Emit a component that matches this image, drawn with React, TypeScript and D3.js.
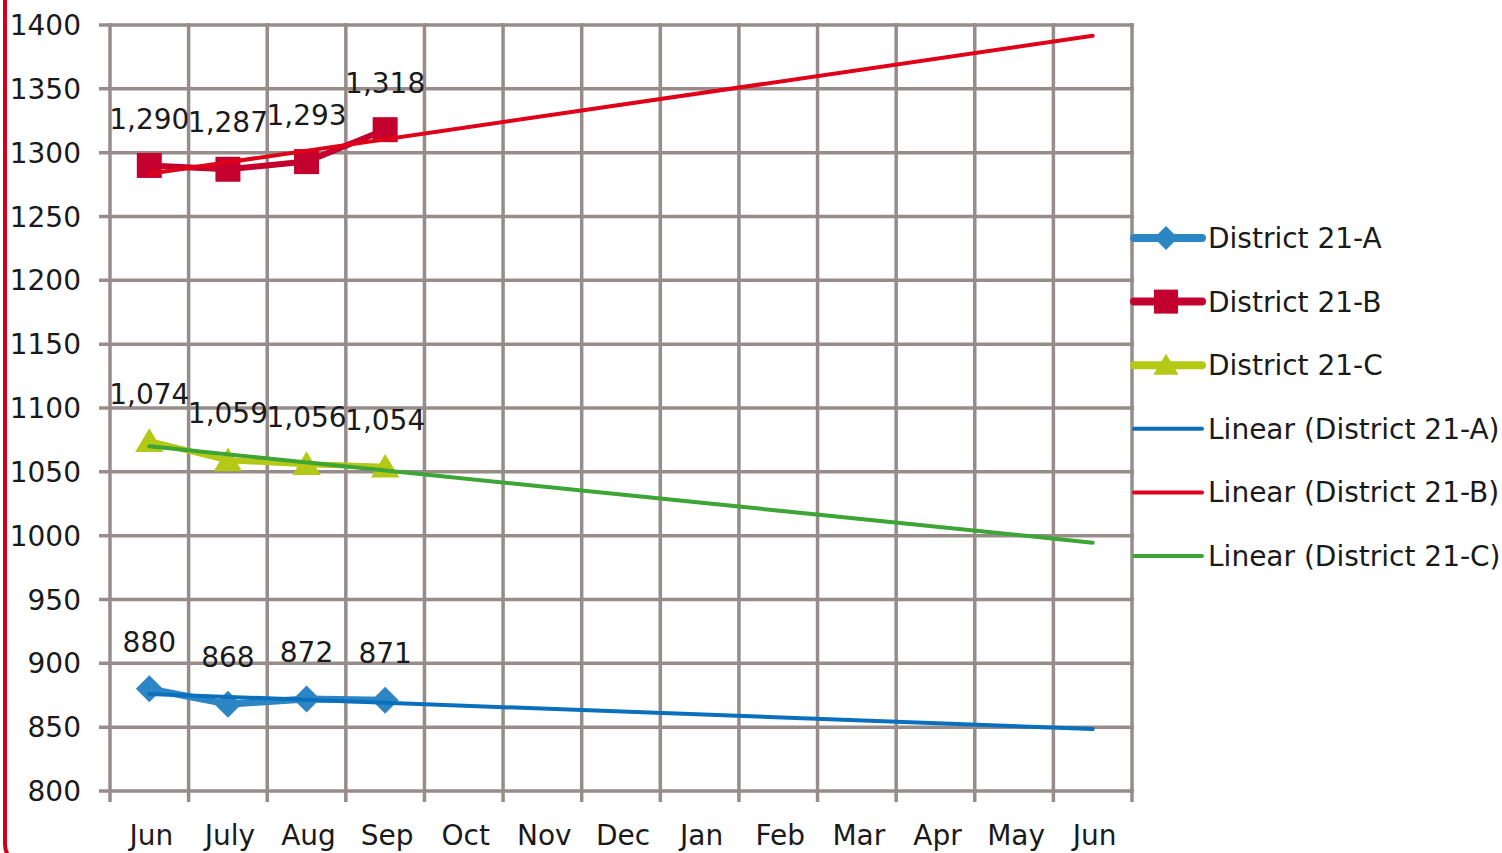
import React from "react";
import * as d3 from "d3";

// categories along the x axis
const months = ["Jun", "July", "Aug", "Sep", "Oct", "Nov", "Dec", "Jan", "Feb", "Mar", "Apr", "May", "Jun "];
const monthLabels = ["Jun", "July", "Aug", "Sep", "Oct", "Nov", "Dec", "Jan", "Feb", "Mar", "Apr", "May", "Jun"];

// observed values (first four months)
const district21A = [880, 868, 872, 871];
const district21B = [1290, 1287, 1293, 1318];
const district21C = [1074, 1059, 1056, 1054];

// linear trendline values at first and last month
const trendA = [876, 848.5];
const trendB = [1283.5, 1391.5];
const trendC = [1070, 994.5];

const yTicks = [800, 850, 900, 950, 1000, 1050, 1100, 1150, 1200, 1250, 1300, 1350, 1400];

const series = [
  { name: "District 21-A", values: district21A, color: "#2d86c4", marker: "diamond", width: 7 },
  { name: "District 21-B", values: district21B, color: "#c4002f", marker: "square", width: 6 },
  { name: "District 21-C", values: district21C, color: "#b4c816", marker: "triangle", width: 6 },
];
const trends = [
  { name: "Linear (District 21-A)", values: trendA, color: "#0a6fbd" },
  { name: "Linear (District 21-B)", values: trendB, color: "#e0001a" },
  { name: "Linear (District 21-C)", values: trendC, color: "#3ca535" },
];

const FONT = "'DejaVu Sans', sans-serif";
const gridColor = "#978c89";

// excel-ish markers: square diamond, flat triangle
function markerPath(kind: string, s: number) {
  const h = s / 2;
  const p = d3.path();
  if (kind === "diamond") {
    p.moveTo(0, -h); p.lineTo(h, 0); p.lineTo(0, h); p.lineTo(-h, 0);
  } else if (kind === "square") {
    p.rect(-h, -h, s, s);
  } else {
    p.moveTo(0, -h * 0.95); p.lineTo(h * 1.05, h * 0.8); p.lineTo(-h * 1.05, h * 0.8);
  }
  p.closePath();
  return p.toString();
}

export default function App() {
  const left = 110, right = 1132, top = 25, bottom = 791;
  const x = d3.scaleBand<string>().domain(months).range([left, right]);
  const y = d3.scaleLinear().domain([800, 1400]).range([bottom, top]);
  const cx = (i: number) => x(months[i])! + x.bandwidth() / 2;
  const line = d3.line<number>().x((_, i) => cx(i)).y((d) => y(d));
  const fmt = d3.format(",");

  const vlines = months.map((m) => x(m)!).concat([right]);
  const legendY = d3.scaleLinear().domain([0, 5]).range([238, 556]);

  return (
    <svg width={1502} height={853} style={{ position: "absolute", left: 0, top: 0, background: "#fff" }}>
      {/* red frame edge on the left */}
      <rect x={5} y={-40} width={1600} height={906} rx={22} fill="none" stroke="#d0021b" strokeWidth={4} />

      {/* grid */}
      <g stroke={gridColor} strokeWidth={3.5}>
        {yTicks.map((t) => (
          <line key={"h" + t} x1={left - 11} x2={right + 2} y1={y(t)} y2={y(t)} />
        ))}
        {vlines.map((v, i) => (
          <line key={"v" + i} x1={v} x2={v} y1={top - 2} y2={bottom + 11} />
        ))}
      </g>

      {/* y tick labels */}
      <g fontFamily={FONT} fontSize={28} fill="#1a1a1a" textAnchor="end">
        {yTicks.map((t) => (
          <text key={"yl" + t} x={81} y={y(t)} dy="0.36em">{t}</text>
        ))}
      </g>

      {/* x tick labels */}
      <g fontFamily={FONT} fontSize={28} fill="#1a1a1a" textAnchor="middle">
        {months.map((m, i) => (
          <text key={"xl" + i} x={cx(i) + 2} y={845}>{monthLabels[i]}</text>
        ))}
      </g>

      {/* series */}
      {series.map((s) => (
        <g key={s.name}>
          <path d={line(s.values)!} fill="none" stroke={s.color} strokeWidth={s.width} strokeLinejoin="round" />
          {s.values.map((v, i) => (
            <path key={i} d={markerPath(s.marker, s.marker === "square" ? 25 : 27)}
              transform={`translate(${cx(i)},${y(v)})`} fill={s.color} />
          ))}
        </g>
      ))}

      {/* trendlines */}
      {trends.map((t) => (
        <line key={t.name} x1={cx(0)} x2={cx(months.length - 1)} y1={y(t.values[0])} y2={y(t.values[1])}
          stroke={t.color} strokeWidth={4} strokeLinecap="round" />
      ))}

      {/* data labels */}
      <g fontFamily={FONT} fontSize={28} fill="#1a1a1a" textAnchor="middle">
        {series.map((s) =>
          s.values.map((v, i) => (
            <text key={s.name + i} x={cx(i)} y={y(v) - 47} dy="0.36em">{fmt(v)}</text>
          ))
        )}
      </g>

      {/* legend */}
      <g fontFamily={FONT} fontSize={28} fill="#1a1a1a">
        {series.map((s, i) => (
          <g key={"lg" + s.name} transform={`translate(0,${legendY(i)})`}>
            <line x1={1134} x2={1202} y1={0} y2={0} stroke={s.color} strokeWidth={8} strokeLinecap="round" />
            <path d={markerPath(s.marker, 24)} transform="translate(1166,0)" fill={s.color} />
            <text x={1208} dy="0.36em">{s.name}</text>
          </g>
        ))}
        {trends.map((t, i) => (
          <g key={"lt" + t.name} transform={`translate(0,${legendY(i + 3)})`}>
            <line x1={1134} x2={1202} y1={0} y2={0} stroke={t.color} strokeWidth={4} strokeLinecap="round" />
            <text x={1208} dy="0.36em">{t.name}</text>
          </g>
        ))}
      </g>
    </svg>
  );
}
